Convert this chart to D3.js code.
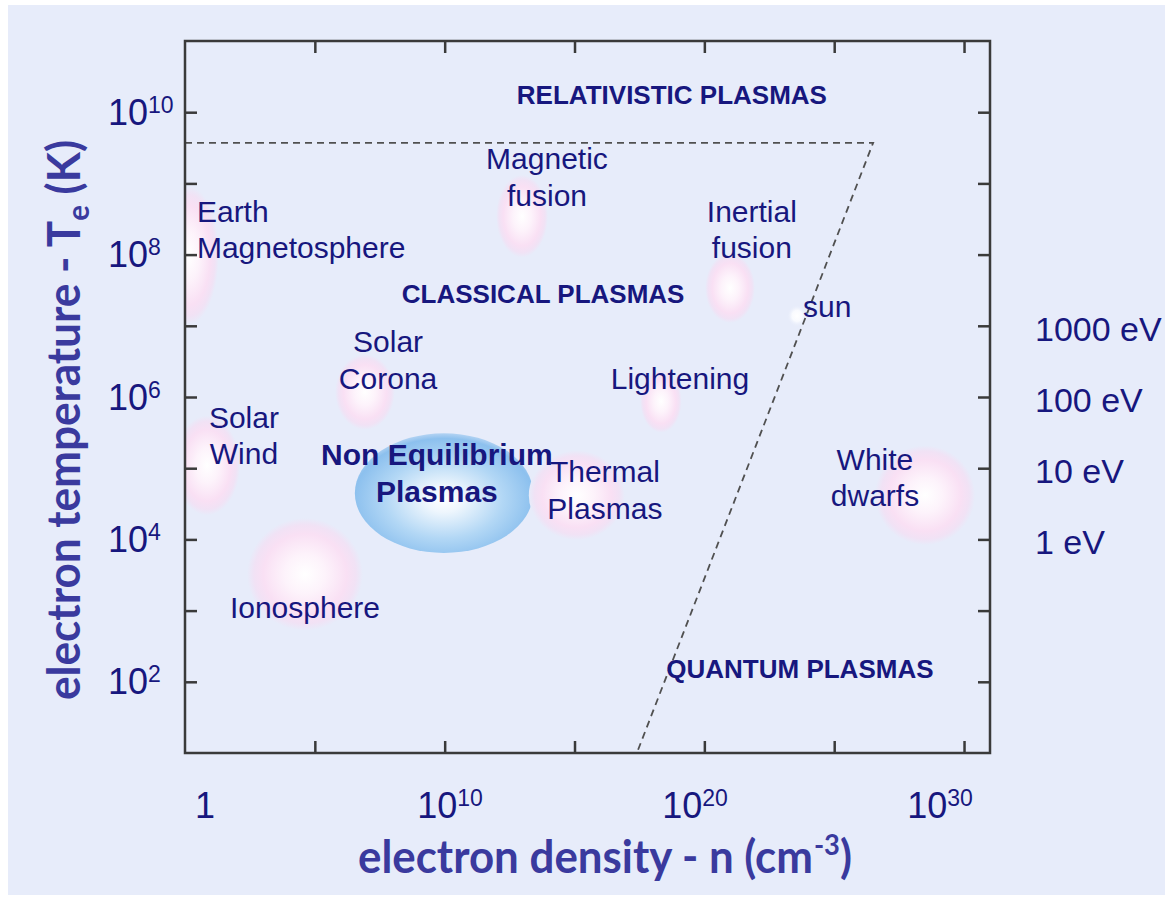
<!DOCTYPE html>
<html><head><meta charset="utf-8">
<script src="https://cdn.jsdelivr.net/npm/d3@7/dist/d3.min.js"></script>
<style>html,body{margin:0;padding:0;background:#fff;}svg{display:block;}</style>
</head><body>
<svg id="chart" width="1165" height="899"></svg>
<script>
// ---------- data ----------
const xTickValues = [1e5, 1e10, 1e15, 1e20, 1e25, 1e30];
const xLabelValues = [1, 1e10, 1e20, 1e30];
const xLabelExps = ["", "10", "20", "30"];
const yTickValues = [1e2, 1e3, 1e4, 1e5, 1e6, 1e7, 1e8, 1e9, 1e10];
const yLabelValues = [1e2, 1e4, 1e6, 1e8, 1e10];
const yLabelExps = ["2", "4", "6", "8", "10"];
const eVValues = [1e4, 1e5, 1e6, 1e7];
const eVLabels = ["1 eV", "10 eV", "100 eV", "1000 eV"];

// boundary of classical plasmas (log10 n, log10 T)
const boundaryLogN = [0, 26.5, 17.4];
const boundaryLogT = [9.57, 9.57, 1.0];

// plasma regions (log10 centre and half extent in decades)
const blobNames   = ["Non Equilibrium", "Earth Magnetosphere", "Magnetic fusion", "Inertial fusion", "sun", "Solar Corona", "Lightening", "Solar Wind", "Thermal Plasmas", "Ionosphere", "White dwarfs"];
const blobLogN    = [9.97, 0.15, 12.98, 20.99, 23.57, 6.93, 18.33, 0.85, 15.09, 4.62, 28.5];
const blobLogT    = [4.65, 7.99, 8.54, 7.53, 7.14, 6.07, 5.94, 5.04, 4.62, 3.51, 4.62];
const blobSpreadN = [3.43, 1.15, 1.0, 0.96, 0.39, 1.15, 0.8, 1.27, 1.85, 2.23, 1.93];
const blobSpreadT = [0.84, 0.97, 0.58, 0.49, 0.155, 0.53, 0.44, 0.7, 0.63, 0.79, 0.7];
const blobKind    = ["blue", "pink", "pink", "pink", "white", "pink", "pink", "pink", "pink", "pink", "pink"];

// region labels
const labelText  = ["Earth\nMagnetosphere", "Magnetic\nfusion", "Inertial\nfusion", "sun", "Solar\nCorona", "Lightening", "Solar\nWind", "Thermal\nPlasmas", "White\ndwarfs", "Ionosphere"];
const labelLogN  = [0.46, 13.94, 21.83, 23.8, 7.82, 19.06, 2.27, 16.17, 26.57, 4.62];
const labelLogT  = [8.458, 9.202, 8.458, 7.124, 6.632, 6.112, 5.565, 4.806, 4.975, 2.896];
const labelAlign = ["start", "middle", "middle", "start", "middle", "middle", "middle", "middle", "middle", "middle"];

const zoneText = ["RELATIVISTIC PLASMAS", "CLASSICAL PLASMAS", "QUANTUM PLASMAS"];
const zoneLogN = [18.75, 13.79, 23.68];
const zoneLogT = [10.115, 7.32, 2.053];

const boldText = ["Non Equilibrium\nPlasmas"];
const boldLogN = [9.70];
const boldLogT = [5.045];

// ---------- layout ----------
const svg = d3.select("#chart");
const L = 185, R = 990, T = 41, B = 753;
const BG = "#e7ecfa", NAVY = "#17177e", TITLE = "#3a3a9e";
const x = d3.scaleLog().domain([1, 1e31]).range([L, R]);
const y = d3.scaleLog().domain([10, 1e11]).range([B, T]);
const xLab = d3.scaleLog().domain([1, 1e30]).range([205, 940]);
const p10 = e => Math.pow(10, e);

svg.append("rect").attr("x", 8).attr("y", 5).attr("width", 1157).attr("height", 890).attr("fill", BG);

const defs = svg.append("defs");
defs.append("clipPath").attr("id", "plotclip").append("rect")
  .attr("x", L).attr("y", T).attr("width", R - L).attr("height", B - T);

const gp = defs.append("radialGradient").attr("id", "gPink");
[[0, "#ffffff", 1], [0.35, "#fdf3fb", 1], [0.72, "#f9e0f4", 1], [0.88, "#f1e2f5", 1], [1, BG, 1]]
  .forEach(s => gp.append("stop").attr("offset", s[0]).attr("stop-color", s[1]).attr("stop-opacity", s[2]));
const gw = defs.append("radialGradient").attr("id", "gWhite");
[[0, "#ffffff", 1], [0.5, "#fbfcff", 0.9], [1, BG, 0]]
  .forEach(s => gw.append("stop").attr("offset", s[0]).attr("stop-color", s[1]).attr("stop-opacity", s[2]));
const gb = defs.append("radialGradient").attr("id", "gBlue").attr("cx", "0.5").attr("cy", "0.55").attr("r", "0.55");
[[0, "#ffffff", 1], [0.2, "#eef6fd", 1], [0.6, "#b2d7f5", 1], [0.92, "#8cc0ee", 1], [1, "#90c2ee", 0.6]]
  .forEach(s => gb.append("stop").attr("offset", s[0]).attr("stop-color", s[1]).attr("stop-opacity", s[2]));

const blobs = blobNames.map((n, i) => ({
  name: n, n: p10(blobLogN[i]), t: p10(blobLogT[i]),
  n1: p10(blobLogN[i] + blobSpreadN[i]), t1: p10(blobLogT[i] + blobSpreadT[i]), kind: blobKind[i]
}));
svg.append("g").attr("clip-path", "url(#plotclip)")
  .selectAll("ellipse").data(blobs).join("ellipse")
  .attr("cx", d => x(d.n)).attr("cy", d => y(d.t))
  .attr("rx", d => x(d.n1) - x(d.n)).attr("ry", d => y(d.t) - y(d.t1))
  .attr("fill", d => d.kind === "blue" ? "url(#gBlue)" : d.kind === "white" ? "url(#gWhite)" : "url(#gPink)");

// dashed boundary
const bpts = boundaryLogN.map((n, i) => [x(p10(n)), y(p10(boundaryLogT[i]))]);
svg.append("path").attr("d", d3.line()(bpts)).attr("fill", "none")
  .attr("stroke", "#505050").attr("stroke-width", 1.8).attr("stroke-dasharray", "7,5");

// axes (inside ticks)
function styleAxis(g) {
  g.select(".domain").remove();
  g.selectAll(".tick line").attr("stroke", "#3a3a3a").attr("stroke-width", 2.5);
}
svg.append("g").attr("transform", `translate(0,${B})`)
  .call(d3.axisBottom(x).tickValues(xTickValues).tickSize(-12).tickFormat("")).call(styleAxis);
svg.append("g").attr("transform", `translate(0,${T})`)
  .call(d3.axisTop(x).tickValues(xTickValues).tickSize(-12).tickFormat("")).call(styleAxis);
svg.append("g").attr("transform", `translate(${L},0)`)
  .call(d3.axisLeft(y).tickValues(yTickValues).tickSize(-12).tickFormat("")).call(styleAxis);
svg.append("g").attr("transform", `translate(${R},0)`)
  .call(d3.axisRight(y).tickValues(yTickValues).tickSize(-12).tickFormat("")).call(styleAxis);
svg.append("rect").attr("x", L).attr("y", T).attr("width", R - L).attr("height", B - T)
  .attr("fill", "none").attr("stroke", "#3a3a3a").attr("stroke-width", 2.5);

const FONT = "'Liberation Sans', Arial, sans-serif";

// tick labels
function powLabel(g, base, exp) {
  g.append("tspan").text(base);
  if (exp) g.append("tspan").attr("font-size", 23).attr("dy", -12).text(exp);
}
xLabelValues.forEach((v, i) => {
  const t = svg.append("text").attr("x", xLab(v)).attr("y", 818).attr("text-anchor", "middle")
    .attr("font-family", FONT).attr("font-size", 36).attr("fill", NAVY);
  powLabel(t, i === 0 ? "1" : "10", xLabelExps[i]);
});
yLabelValues.forEach((v, i) => {
  const t = svg.append("text").attr("x", 108).attr("y", y(v) + 12.5)
    .attr("font-family", FONT).attr("font-size", 36).attr("fill", NAVY);
  powLabel(t, "10", yLabelExps[i]);
});
eVValues.forEach((v, i) => {
  svg.append("text").attr("x", 1035).attr("y", y(v) + 15).attr("font-family", FONT)
    .attr("font-size", 34).attr("fill", NAVY).text(eVLabels[i]);
});

// annotations
function multiLine(txt, px, py, anchor, size, weight, lh) {
  const t = svg.append("text").attr("x", px).attr("y", py).attr("text-anchor", anchor)
    .attr("font-family", FONT).attr("font-size", size).attr("font-weight", weight).attr("fill", NAVY);
  txt.split("\n").forEach((line, k) => {
    t.append("tspan").attr("x", px).attr("dy", k === 0 ? 0 : lh).text(line);
  });
}
labelText.forEach((s, i) => multiLine(s, x(p10(labelLogN[i])), y(p10(labelLogT[i])), labelAlign[i], 30, "normal", 36.5));
zoneText.forEach((s, i) => multiLine(s, x(p10(zoneLogN[i])), y(p10(zoneLogT[i])), "middle", 26, "bold", 30));
boldText.forEach((s, i) => multiLine(s, x(p10(boldLogN[i])), y(p10(boldLogT[i])), "middle", 30, "bold", 37.5));

// axis titles
const TF = "Lato, 'Open Sans', sans-serif";
const xt = svg.append("text").attr("x", 358).attr("y", 873).attr("font-family", TF).attr("font-weight", "bold")
  .attr("font-size", 45).attr("fill", TITLE).attr("textLength", 494).attr("lengthAdjust", "spacingAndGlyphs");
xt.append("tspan").text("electron density - n (cm");
xt.append("tspan").attr("font-size", 28).attr("dx", 1).attr("dy", -18).text("-3");
xt.append("tspan").attr("dy", 18).text(")");

const yt = svg.append("text").attr("transform", "translate(80,700) rotate(-90)").attr("x", 0).attr("y", 0)
  .attr("font-family", TF).attr("font-weight", "bold").attr("font-size", 45).attr("fill", TITLE)
  .attr("textLength", 560).attr("lengthAdjust", "spacingAndGlyphs");
yt.append("tspan").text("electron temperature - T");
yt.append("tspan").attr("font-size", 30).attr("dy", 9).text("e");
yt.append("tspan").attr("dy", -9).text(" (K)");
</script>
</body></html>
